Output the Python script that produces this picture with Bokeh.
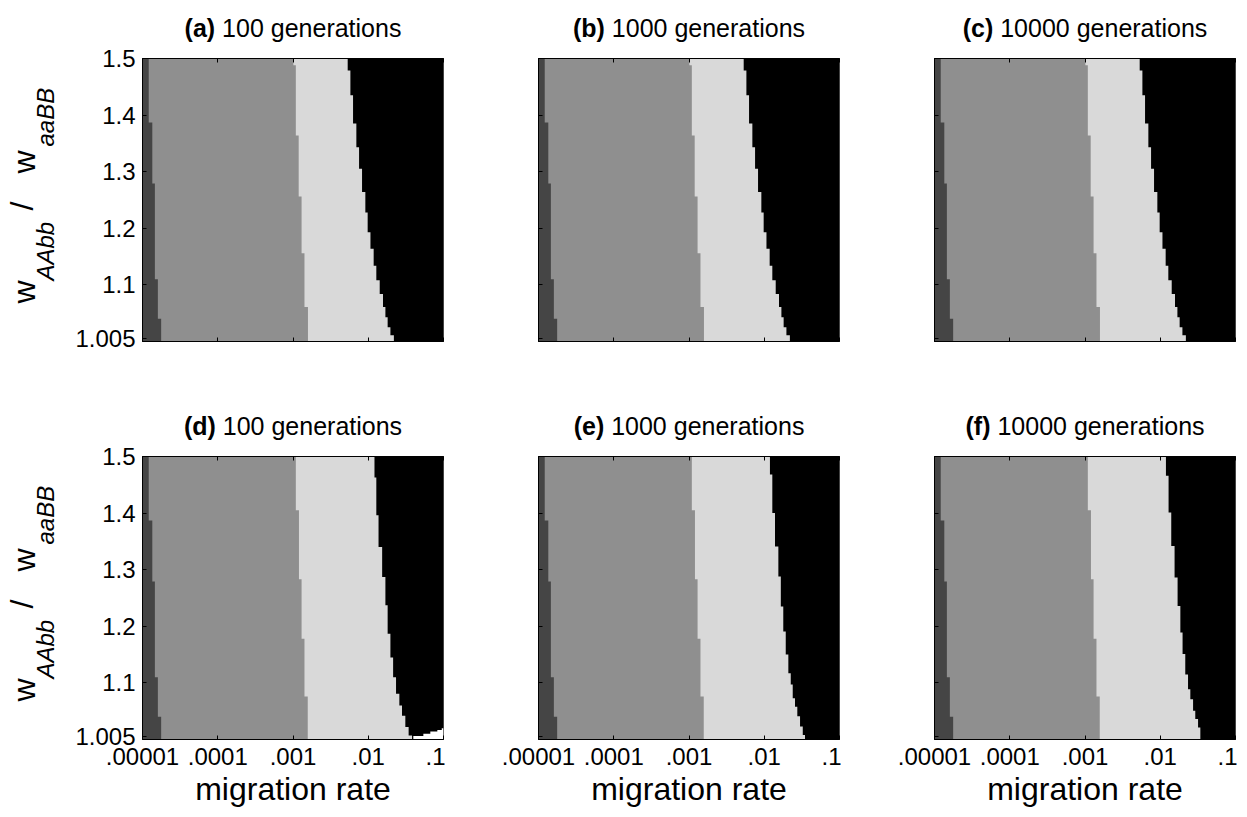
import math
from bokeh.plotting import figure
from bokeh.layouts import column, row
from bokeh.models import FixedTicker, CustomJSTickFormatter, Label, LogAxis
from bokeh.embed import file_html
from bokeh.resources import INLINE

# ---------------- data ----------------
M_RANGE = (1e-5, 1e-1)          # migration rate (log axis)
W_RANGE = (1.0, 1.5)            # fitness ratio w_AAbb / w_aaBB

X_TICKS = [1e-5, 1e-4, 1e-3, 1e-2, 1e-1]
X_TICK_LABELS = [".00001", ".0001", ".001", ".01", ".1"]
Y_TICKS = [1.005, 1.1, 1.2, 1.3, 1.4, 1.5]
Y_TICK_LABELS = ["1.005", "1.1", "1.2", "1.3", "1.4", "1.5"]

LETTERS = ["a", "b", "c", "d", "e", "f"]
GENERATIONS = ["100", "1000", "10000", "100", "1000", "10000"]

# boundary dark grey -> mid grey (row edges top->bottom, migration rate of each row)
B1_W = [1.5, 1.387, 1.279, 1.110, 1.040, 1.0]
B1_M = [1.21e-5, 1.35e-5, 1.46e-5, 1.60e-5, 1.77e-5]

# boundary mid grey -> light grey
B2_W_ROW1 = [1.5, 1.488, 1.364, 1.256, 1.156, 1.061, 1.0]
B2_M_ROW1 = [1.01e-3, 1.09e-3, 1.19e-3, 1.30e-3, 1.42e-3, 1.58e-3]
B2_W_ROW2 = [1.5, 1.405, 1.283, 1.178, 1.076, 1.0]
B2_M_ROW2 = [1.09e-3, 1.20e-3, 1.30e-3, 1.42e-3, 1.57e-3]

# boundary light grey -> black
B3_W_ROW1 = [1.5, 1.479, 1.435, 1.385, 1.343, 1.305, 1.264, 1.228, 1.193, 1.164,
             1.134, 1.108, 1.084, 1.061, 1.043, 1.025, 1.011, 1.0]
B3_M_ROW1 = [5.33e-3, 5.79e-3, 6.28e-3, 6.95e-3, 7.55e-3, 8.27e-3, 9.15e-3, 9.82e-3,
             1.07e-2, 1.18e-2, 1.28e-2, 1.42e-2, 1.57e-2, 1.69e-2, 1.81e-2, 1.97e-2, 2.19e-2]
B3_W_D = [1.5, 1.463, 1.396, 1.340, 1.287, 1.237, 1.187, 1.145, 1.110, 1.081,
          1.060, 1.042, 1.022, 1.007, 1.0]
B3_M_D = [1.21e-2, 1.28e-2, 1.37e-2, 1.53e-2, 1.69e-2, 1.81e-2, 1.97e-2, 2.14e-2,
          2.34e-2, 2.59e-2, 2.81e-2, 3.11e-2, 3.44e-2, 3.82e-2]
B3_W_E = [1.5, 1.468, 1.400, 1.341, 1.288, 1.235, 1.191, 1.150, 1.117, 1.097,
          1.073, 1.058, 1.041, 1.023, 1.008, 1.0]
B3_M_E = [1.19e-2, 1.28e-2, 1.39e-2, 1.54e-2, 1.66e-2, 1.79e-2, 1.93e-2, 2.09e-2,
          2.25e-2, 2.39e-2, 2.56e-2, 2.75e-2, 2.99e-2, 3.25e-2, 3.48e-2]
B3_W_F = [1.5, 1.466, 1.401, 1.342, 1.286, 1.236, 1.189, 1.151, 1.115, 1.089,
          1.071, 1.051, 1.036, 1.021, 1.0]
B3_M_F = [1.19e-2, 1.29e-2, 1.40e-2, 1.55e-2, 1.70e-2, 1.85e-2, 1.98e-2, 2.15e-2,
          2.34e-2, 2.51e-2, 2.73e-2, 2.92e-2, 3.18e-2, 3.41e-2]

# white patch in panel (d)
WHITE_W_D = [1.020, 1.017, 1.014, 1.010, 1.006, 1.0]
WHITE_M_D = [9.48e-2, 8.28e-2, 6.68e-2, 5.40e-2, 3.97e-2]

PANEL_B2 = [(B2_W_ROW1, B2_M_ROW1)] * 3 + [(B2_W_ROW2, B2_M_ROW2)] * 3
PANEL_B3 = [(B3_W_ROW1, B3_M_ROW1)] * 3 + [(B3_W_D, B3_M_D), (B3_W_E, B3_M_E), (B3_W_F, B3_M_F)]
PANEL_WHITE = [None, None, None, (WHITE_W_D, WHITE_M_D), None, None]

# ---------------- style / layout ----------------
FONT = "Liberation Sans"
DARK, MID, LIGHT, BLACK, WHITE = "#454545", "#8f8f8f", "#d9d9d9", "#000000", "#ffffff"
FW, FH = 301, 283
YLAB_W = 60                        # width of the strip holding the y label
COL_LEFT = [142 - YLAB_W, 93, 93]  # left border of each column's figure
FRAME_LEFT = [142, 538, 934]       # page x of each frame
TOTAL_W = YLAB_W + (COL_LEFT[0] + FW + 2) + 2 * (93 + FW + 2)
PANEL_TOP = 15
ROW_BOTTOM = [45, 76]
STRIP_H = [58 - PANEL_TOP, 70 - PANEL_TOP]
TITLE_GAP = 19.5                   # title baseline above the frame
TITLE_SIZE = 25
BASE_SHIFT = 0.43                  # label anchor offset (em) observed in the renderer
YLAB_LIFT = 12                     # upward correction of the rotated y label

ARIAL = {' ': 278, '(': 333, ')': 333, 'a': 556, 'b': 556, 'c': 500, 'd': 556, 'e': 556,
         'f': 278, 'g': 556, 'i': 222, 'n': 556, 'o': 556, 'r': 333, 's': 500, 't': 278}
ARIAL_B = {'(': 333, ')': 333, 'a': 556, 'b': 611, 'c': 556, 'd': 611, 'e': 556, 'f': 333}


def text_w(s, table, size):
    return sum(table.get(ch, 556) for ch in s) * size / 1000.0


def stair(ws, ms, right):
    xs, ys = [right, right], [ws[0], ws[-1]]
    for i in reversed(range(len(ms))):
        xs += [ms[i], ms[i]]
        ys += [ws[i + 1], ws[i]]
    return xs, ys


def lookup_formatter(vals, labels):
    return CustomJSTickFormatter(args=dict(vals=vals, labels=labels), code="""
        let best = 0, d = Infinity;
        for (let i = 0; i < vals.length; i++) {
            const e = Math.abs(Math.log(vals[i]) - Math.log(tick));
            if (e < d) { d = e; best = i; }
        }
        return labels[best];""")


def empty_formatter():
    return CustomJSTickFormatter(code="return '';")


def style_axis(ax, show_labels):
    ax.major_tick_in = 4
    ax.major_tick_out = 0
    ax.minor_tick_line_color = None
    ax.axis_line_color = "black"
    ax.major_tick_line_color = "black"
    ax.major_label_text_font = FONT
    ax.major_label_text_color = "black"
    ax.major_label_text_font_size = "24px" if show_labels else "0px"


def mklabel(**kw):
    base = dict(x_units="screen", y_units="screen", text_font=FONT, text_color="black",
                text_baseline="alphabetic")
    base.update(kw)
    return Label(**base)


def blank(width, height):
    f = figure(frame_width=width, frame_height=height, min_border=0,
               x_range=(0, 1), y_range=(0, 1), x_axis_location=None, y_axis_location=None,
               output_backend="svg", toolbar_location=None)
    f.grid.visible = False
    f.outline_line_color = None
    f.background_fill_color = WHITE
    f.border_fill_color = WHITE
    return f


def panel(i):
    r, c = divmod(i, 3)
    p = figure(frame_width=FW, frame_height=FH, x_axis_type="log",
               x_range=M_RANGE, y_range=W_RANGE,
               output_backend="svg", toolbar_location=None,
               min_border_left=COL_LEFT[c], min_border_right=2,
               min_border_top=PANEL_TOP, min_border_bottom=ROW_BOTTOM[r])
    p.grid.visible = False
    p.outline_line_color = "black"
    p.outline_line_alpha = 1.0
    p.background_fill_color = WHITE
    p.border_fill_color = WHITE

    p.quad(left=[M_RANGE[0]], right=[M_RANGE[1]], bottom=[W_RANGE[0]], top=[W_RANGE[1]],
           fill_color=DARK, line_color=None)
    layers = [((B1_W, B1_M), MID), (PANEL_B2[i], LIGHT), (PANEL_B3[i], BLACK)]
    if PANEL_WHITE[i] is not None:
        layers.append((PANEL_WHITE[i], WHITE))
    for (ws, ms), color in layers:
        xs, ys = stair(ws, ms, M_RANGE[1])
        p.patch(xs, ys, fill_color=color, line_color=None)

    xa, ya = p.xaxis[0], p.yaxis[0]
    xa.ticker = FixedTicker(ticks=X_TICKS)
    ya.ticker = FixedTicker(ticks=Y_TICKS)
    style_axis(xa, r == 1)
    style_axis(ya, c == 0)
    xa.formatter = lookup_formatter(X_TICKS, X_TICK_LABELS) if r == 1 else empty_formatter()
    ya.formatter = lookup_formatter(Y_TICKS, Y_TICK_LABELS) if c == 0 else empty_formatter()
    xa.major_label_standoff = 8 if r == 1 else 0
    ya.major_label_standoff = 7 if c == 0 else 0
    if r == 1:
        xa.axis_label = "migration rate"
        xa.axis_label_text_font = FONT
        xa.axis_label_text_font_size = "32px"
        xa.axis_label_text_font_style = "normal"
        xa.axis_label_text_color = "black"
        xa.axis_label_standoff = 3

    top = LogAxis(ticker=FixedTicker(ticks=X_TICKS), formatter=empty_formatter())
    style_axis(top, False)
    top.major_label_standoff = 0
    p.add_layout(top, "above")
    return p


def title_strip(r):
    s = blank(TOTAL_W, STRIP_H[r])
    y = (TITLE_GAP - PANEL_TOP) + BASE_SHIFT * TITLE_SIZE
    for c in range(3):
        i = 3 * r + c
        bold = f"({LETTERS[i]})"
        rest = f"{GENERATIONS[i]} generations"
        wb = text_w(bold, ARIAL_B, TITLE_SIZE)
        wsp = text_w(" ", ARIAL, TITLE_SIZE)
        wr = text_w(rest, ARIAL, TITLE_SIZE)
        split = FRAME_LEFT[c] + FW / 2 - (wb + wsp + wr) / 2 + wb
        s.add_layout(mklabel(x=split, y=y, text=bold, text_font_size=f"{TITLE_SIZE}px",
                             text_font_style="bold", text_align="right"))
        s.add_layout(mklabel(x=split + wsp, y=y, text=rest, text_font_size=f"{TITLE_SIZE}px",
                             text_align="left"))
    return s


def ylabel_strip(r):
    s = blank(YLAB_W, PANEL_TOP + FH + ROW_BOTTOM[r])
    b = ROW_BOTTOM[r] + YLAB_LIFT
    parts = [("w", 37, 41, 32, "normal"),
             ("AAbb", 55, 64, 24, "italic"),
             ("/", 35, 134, 32, "normal"),
             ("w", 37, 171, 32, "normal"),
             ("aaBB", 55, 198, 24, "italic")]
    for txt, x, y, fs, st in parts:
        s.add_layout(mklabel(x=x - BASE_SHIFT * fs, y=b + y, text=txt, angle=math.pi / 2,
                             text_font_size=f"{fs}px", text_font_style=st,
                             text_align="left"))
    return s


figs = [panel(i) for i in range(6)]
layout = column(
    title_strip(0),
    row(ylabel_strip(0), *figs[:3]),
    title_strip(1),
    row(ylabel_strip(1), *figs[3:]),
)

open("out.html", "w").write(file_html(layout, INLINE))
